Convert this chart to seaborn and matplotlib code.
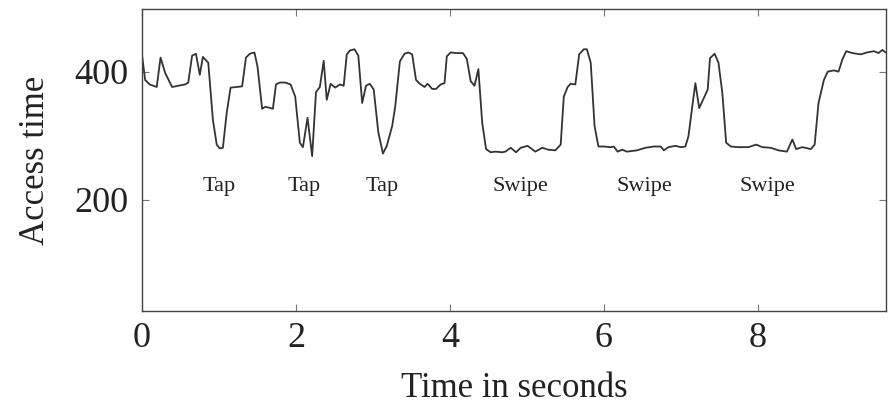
import matplotlib
matplotlib.use("Agg")
import matplotlib.pyplot as plt
import seaborn as sns
import pandas as pd

# ─────────────────────────────────────────────────────────────────────────────
# Data
# ─────────────────────────────────────────────────────────────────────────────

time_s = [
    0.00, 0.04, 0.10, 0.19, 0.24, 0.30, 0.39, 0.47, 0.56, 0.60,
    0.65, 0.70, 0.75, 0.79, 0.86, 0.92, 0.97, 1.01, 1.05, 1.10,
    1.15, 1.23, 1.30, 1.35, 1.40, 1.46, 1.50, 1.56, 1.60, 1.64,
    1.70, 1.74, 1.79, 1.86, 1.93, 1.99, 2.05, 2.09, 2.15, 2.21,
    2.26, 2.31, 2.36, 2.40, 2.45, 2.51, 2.57, 2.62, 2.66, 2.70,
    2.76, 2.81, 2.86, 2.91, 2.96, 3.01, 3.07, 3.13, 3.18, 3.25,
    3.29, 3.35, 3.41, 3.46, 3.51, 3.56, 3.61, 3.67, 3.71, 3.77,
    3.82, 3.88, 3.93, 3.96, 4.01, 4.08, 4.17, 4.22, 4.27, 4.32,
    4.37, 4.42, 4.47, 4.53, 4.59, 4.68, 4.72, 4.79, 4.86, 4.92,
    5.01, 5.11, 5.20, 5.28, 5.37, 5.44, 5.48, 5.53, 5.57, 5.63,
    5.68, 5.74, 5.78, 5.83, 5.88, 5.93, 6.00, 6.09, 6.13, 6.18,
    6.24, 6.30, 6.43, 6.54, 6.65, 6.74, 6.78, 6.84, 6.93, 7.00,
    7.06, 7.10, 7.15, 7.19, 7.24, 7.30, 7.35, 7.38, 7.44, 7.49,
    7.54, 7.59, 7.65, 7.75, 7.88, 7.98, 8.06, 8.17, 8.27, 8.38,
    8.45, 8.50, 8.58, 8.69, 8.74, 8.79, 8.86, 8.91, 8.99, 9.05,
    9.10, 9.15, 9.23, 9.34, 9.42, 9.51, 9.57, 9.62, 9.66,
]
access_time = [
    425, 387, 380, 376, 422, 398, 376, 378, 380, 383,
    425, 428, 395, 423, 414, 325, 286, 280, 281, 336,
    375, 376, 377, 422, 428, 430, 408, 342, 345, 344,
    342, 380, 383, 383, 380, 361, 289, 282, 328, 268,
    368, 376, 417, 356, 381, 375, 380, 378, 427, 433,
    435, 425, 351, 378, 381, 372, 305, 272, 284, 315,
    346, 416, 428, 430, 427, 387, 381, 376, 381, 373,
    373, 380, 382, 424, 430, 429, 429, 420, 385, 378,
    404, 320, 279, 274, 275, 274, 275, 281, 274, 281,
    284, 275, 281, 278, 277, 286, 361, 376, 381, 380,
    427, 435, 435, 414, 315, 283, 283, 282, 283, 275,
    278, 275, 277, 281, 283, 283, 277, 282, 284, 282,
    283, 299, 346, 382, 343, 359, 372, 421, 428, 414,
    367, 289, 283, 282, 282, 286, 282, 281, 277, 275,
    294, 279, 282, 279, 286, 351, 387, 400, 402, 400,
    419, 432, 429, 427, 430, 432, 429, 434, 430,
]

gesture_labels = ["Tap", "Tap", "Tap", "Swipe", "Swipe", "Swipe"]
gesture_x = [1.00, 2.10, 3.12, 4.92, 6.53, 8.13]
gesture_y = [220, 220, 220, 220, 220, 220]

x_ticks = [0, 2, 4, 6, 8]
y_ticks = [200, 400]

# ─────────────────────────────────────────────────────────────────────────────
# Plot
# ─────────────────────────────────────────────────────────────────────────────

sns.set_style("ticks")
plt.rcParams["font.family"] = ["Liberation Serif", "DejaVu Serif"]

df = pd.DataFrame({"time": time_s, "access": access_time})

fig = plt.figure(figsize=(8.88, 4.07), dpi=100)
ax = fig.add_axes([0.160, 0.236, 0.838, 0.742])

sns.lineplot(data=df, x="time", y="access", ax=ax,
             color="#333333", linewidth=1.3)

for label, gx, gy in zip(gesture_labels, gesture_x, gesture_y):
    ax.text(gx, gy, label, ha="center", va="center",
            fontsize=16, color="#222222")

ax.set_xlim(0, 9.67)
ax.set_ylim(26, 498)
ax.set_xticks(x_ticks)
ax.set_yticks(y_ticks)
ax.set_xlabel("Time in seconds", fontsize=25, color="#222222", labelpad=12)
ax.set_ylabel("Access time", fontsize=25, color="#222222", labelpad=16)

ax.tick_params(axis="both", which="both", direction="in", length=5,
               width=0.8, color="#777777", labelsize=26, labelcolor="#222222",
               top=True, right=True, pad=10)
ax.tick_params(axis="x", pad=8)
for spine in ax.spines.values():
    spine.set_visible(True)
    spine.set_color("#444444")
    spine.set_linewidth(1.0)

fig.savefig("out.png", dpi=100)
plt.close(fig)
